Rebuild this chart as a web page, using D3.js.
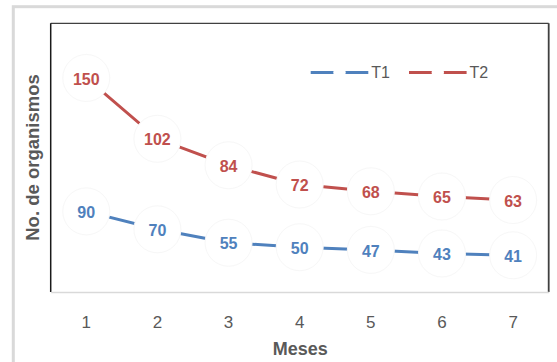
<!DOCTYPE html>
<html>
<head>
<meta charset="utf-8">
<script src="https://cdn.jsdelivr.net/npm/d3@7"></script>
<style>
  html, body { margin: 0; padding: 0; background: #fff; }
  svg { display: block; }
</style>
</head>
<body>
<svg id="chart" width="557" height="362"></svg>
<script>
// ---- data ----
const months = ["1", "2", "3", "4", "5", "6", "7"];
const t1Values = [90, 70, 55, 50, 47, 43, 41];
const t2Values = [150, 102, 84, 72, 68, 65, 63];
const seriesNames = ["T1", "T2"];
const xTitle = "Meses";
const yTitle = "No. de organismos";

// ---- layout ----
const W = 557, H = 362;
const plot = { left: 50.7, right: 548.7, top: 23.3, bottom: 292 };
const colors = { T1: "#4F81BD", T2: "#C0504D" };
const gray = "#595959";
const font = "'Liberation Sans', Arial, sans-serif";

const svg = d3.select("#chart");

// outer chart border
svg.append("rect")
  .attr("x", 13.3).attr("y", 6.7)
  .attr("width", W + 20).attr("height", H + 20)
  .attr("fill", "#fff")
  .attr("stroke", "#d9d9d9").attr("stroke-width", 3);

// scales
const x = d3.scaleBand().domain(months).range([plot.left, plot.right]);
const cx = m => x(m) + x.bandwidth() / 2;
const yT1 = d3.scaleLinear().domain([0, 300]).range([plot.bottom, plot.top]);
const yT2 = d3.scaleSqrt().domain([22, 201]).range([plot.bottom, plot.top]);

// plot area frame
svg.append("line")
  .attr("x1", plot.left).attr("x2", plot.right)
  .attr("y1", plot.top).attr("y2", plot.top)
  .attr("stroke", "#404040").attr("stroke-width", 1.3);
svg.append("line")
  .attr("x1", plot.right).attr("x2", plot.right)
  .attr("y1", plot.top).attr("y2", plot.bottom)
  .attr("stroke", "#404040").attr("stroke-width", 1.8);
svg.append("line")
  .attr("x1", plot.left).attr("x2", plot.left)
  .attr("y1", plot.top).attr("y2", plot.bottom)
  .attr("stroke", "#1a1a1a").attr("stroke-width", 1.5);

// x axis
const xAxis = svg.append("g")
  .attr("transform", `translate(0,${plot.bottom})`)
  .call(d3.axisBottom(x).tickSize(0).tickSizeOuter(0));
xAxis.select(".domain").attr("stroke", "#d9d9d9").attr("stroke-width", 1.5);
xAxis.selectAll(".tick text")
  .attr("y", 29.7).attr("dy", "0.35em")
  .attr("fill", gray)
  .style("font-family", font)
  .style("font-size", "17px");

// axis titles
svg.append("text")
  .attr("x", (plot.left + plot.right) / 2 + 0.5).attr("y", 349)
  .attr("dy", "0.35em").attr("text-anchor", "middle")
  .attr("fill", gray)
  .style("font-family", font)
  .style("font-weight", "bold").style("font-size", "18px")
  .text(xTitle);
svg.append("text")
  .attr("transform", "translate(33,157.5) rotate(-90)")
  .attr("dy", "0.35em").attr("text-anchor", "middle")
  .attr("fill", gray)
  .style("font-family", font)
  .style("font-weight", "bold").style("font-size", "18.5px")
  .text(yTitle);

// series
const series = [
  { name: seriesNames[0], values: t1Values, y: yT1 },
  { name: seriesNames[1], values: t2Values, y: yT2 }
];

series.forEach(s => {
  const line = d3.line().x((d, i) => cx(months[i])).y(d => s.y(d));
  svg.append("path")
    .datum(s.values)
    .attr("d", line)
    .attr("fill", "none")
    .attr("stroke", colors[s.name])
    .attr("stroke-width", 3);
});

series.forEach(s => {
  svg.append("g").selectAll("circle")
    .data(s.values)
    .join("circle")
    .attr("cx", (d, i) => cx(months[i]))
    .attr("cy", d => s.y(d))
    .attr("r", 23.5)
    .attr("fill", "#fff")
    .attr("stroke", "#f7f7f7").attr("stroke-width", 1);
});

series.forEach(s => {
  svg.append("g").selectAll("text")
    .data(s.values)
    .join("text")
    .attr("x", (d, i) => cx(months[i]))
    .attr("y", d => s.y(d) + 1)
    .attr("dy", "0.35em")
    .attr("text-anchor", "middle")
    .attr("fill", colors[s.name])
    .style("font-family", font)
    .style("font-weight", "bold").style("font-size", "16px")
    .text(d => d);
});

// legend
const legendY = 72.5;
const legendItems = [
  { name: seriesNames[0], x0: 310.7 },
  { name: seriesNames[1], x0: 409 }
];
legendItems.forEach(it => {
  const g = svg.append("g");
  g.append("line")
    .attr("x1", it.x0).attr("x2", it.x0 + 57.6)
    .attr("y1", legendY).attr("y2", legendY)
    .attr("stroke", colors[it.name]).attr("stroke-width", 3);
  g.append("circle")
    .attr("cx", it.x0 + 28.8).attr("cy", legendY).attr("r", 6.2)
    .attr("fill", "#fff");
  g.append("text")
    .attr("x", it.x0 + 60.5).attr("y", legendY)
    .attr("dy", "0.35em")
    .attr("fill", gray)
    .style("font-family", font)
    .style("font-size", "16px")
    .text(it.name);
});
</script>
</body>
</html>
